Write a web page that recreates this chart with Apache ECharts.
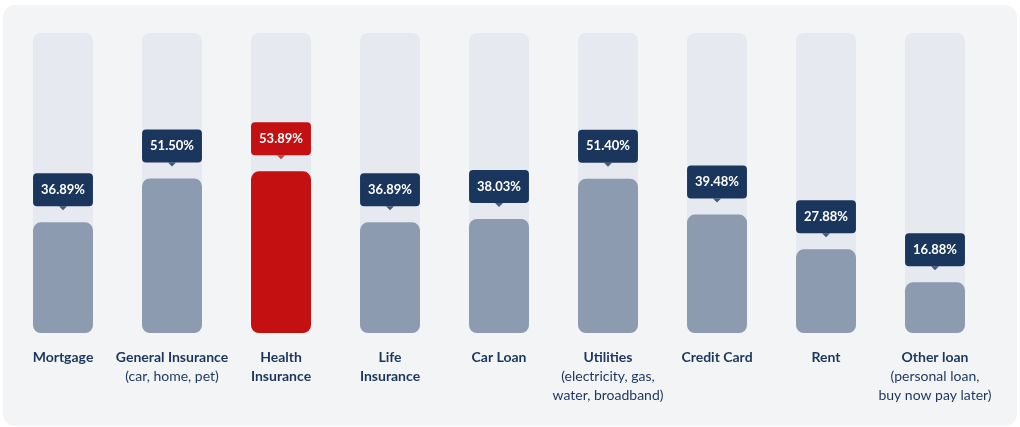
<!DOCTYPE html>
<html>
<head>
<meta charset="utf-8">
<script src="https://cdn.jsdelivr.net/npm/echarts@6/dist/echarts.min.js"></script>
<style>
  html, body { margin: 0; padding: 0; background: #ffffff; }
  #chart { width: 1020px; height: 427px; }
</style>
</head>
<body>
<div id="chart"></div>
<script>
// Household bills: share of respondents per bill type
const categories = ['Mortgage', 'General Insurance', 'Health Insurance', 'Life Insurance', 'Car Loan', 'Utilities', 'Credit Card', 'Rent', 'Other loan'];
const titleLines = [['Mortgage'], ['General Insurance'], ['Health', 'Insurance'], ['Life', 'Insurance'], ['Car Loan'], ['Utilities'], ['Credit Card'], ['Rent'], ['Other loan']];
const noteLines = [[], ['(car, home, pet)'], [], [], [], ['(electricity, gas,', 'water, broadband)'], [], [], ['(personal loan,', 'buy now pay later)']];
const values = [36.89, 51.50, 53.89, 36.89, 38.03, 51.40, 39.48, 27.88, 16.88];
const highlighted = ['Health Insurance'];

const NAVY = '#1b365d';
const RED = '#c41010';
const GREY = '#8c9bb0';
const FONT = 'Lato, "Noto Sans", sans-serif';

const chart = echarts.init(document.getElementById('chart'));

const barData = values.map((v, i) => {
  const hot = highlighted.includes(categories[i]);
  return {
    value: v,
    itemStyle: { color: hot ? RED : GREY },
    label: { backgroundColor: hot ? RED : NAVY }
  };
});

const pointerData = values.map((v, i) => ({
  value: v,
  itemStyle: { color: highlighted.includes(categories[i]) ? RED : NAVY }
}));

chart.setOption({
  animation: false,
  graphic: [{
    type: 'rect',
    z: -10,
    shape: { x: 3, y: 5, width: 1014, height: 421, r: 12 },
    style: { fill: '#f3f4f6' }
  }],
  grid: { left: 8.5, right: 30.5, top: 33, bottom: 94 },
  xAxis: {
    type: 'category',
    data: categories,
    axisLine: { show: false },
    axisTick: { show: false },
    axisLabel: {
      interval: 0,
      margin: 15,
      lineHeight: 19,
      formatter: (name, idx) => {
        const parts = titleLines[idx].map(t => '{b|' + t + '}')
          .concat(noteLines[idx].map(t => '{n|' + t + '}'));
        return parts.join('\n');
      },
      rich: {
        b: { fontFamily: FONT, fontSize: 14, fontWeight: 'bold', color: NAVY, lineHeight: 19 },
        n: { fontFamily: FONT, fontSize: 14, color: NAVY, lineHeight: 19 }
      }
    }
  },
  yAxis: {
    type: 'value',
    min: 0,
    max: 100,
    show: false,
    splitLine: { show: false }
  },
  series: [
    {
      type: 'bar',
      data: barData,
      barWidth: 60,
      showBackground: true,
      backgroundStyle: { color: '#e6e9ef', borderRadius: 8 },
      itemStyle: { borderRadius: 8 },
      label: {
        show: true,
        position: 'top',
        distance: 16,
        formatter: p => p.value.toFixed(2) + '%',
        color: '#ffffff',
        fontFamily: FONT,
        fontSize: 13,
        fontWeight: 'bold',
        lineHeight: 13,
        padding: [10, 8, 10, 8],
        borderRadius: 4
      },
      z: 2
    },
    {
      type: 'scatter',
      data: pointerData,
      symbol: 'triangle',
      symbolRotate: 180,
      symbolSize: [8, 4],
      symbolOffset: [0, -14],
      silent: true,
      z: 3
    }
  ]
});
</script>
</body>
</html>
